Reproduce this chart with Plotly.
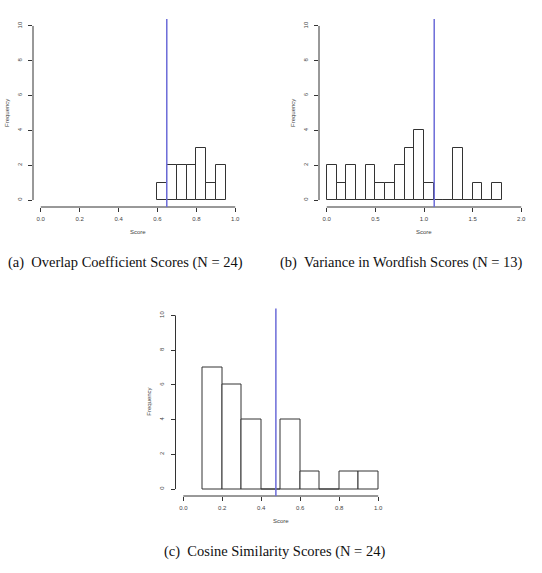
import plotly.graph_objects as go

# ---- data ----
a_edges = [0.60, 0.65, 0.70, 0.75, 0.80, 0.85, 0.90, 0.95]
a_counts = [1, 2, 2, 2, 3, 1, 2]
a_line = 0.648

b_edges = [round(0.1 * i, 1) for i in range(19)]
b_counts = [2, 1, 2, 0, 2, 1, 1, 2, 3, 4, 1, 0, 0, 3, 0, 1, 0, 1]
b_line = 1.105

c_edges = [0.1, 0.2, 0.3, 0.4, 0.5, 0.6, 0.7, 0.8, 0.9, 1.0]
c_counts = [7, 6, 4, 0, 4, 1, 0, 1, 1]
c_line = 0.475

a_xticks = [0.0, 0.2, 0.4, 0.6, 0.8, 1.0]
b_xticks = [0.0, 0.5, 1.0, 1.5, 2.0]
c_xticks = [0.0, 0.2, 0.4, 0.6, 0.8, 1.0]
yticks = [0, 2, 4, 6, 8, 10]

captions = ["(a)  Overlap Coefficient Scores (N = 24)",
            "(b)  Variance in Wordfish Scores (N = 13)",
            "(c)  Cosine Similarity Scores (N = 24)"]

W, H = 542, 573
fig = go.Figure()

panels = [
    dict(edges=a_edges, counts=a_counts, line=a_line, xmax=1.0, xticks=a_xticks,
         px=(33, 243), py=(19, 207), cap=(125, 262)),
    dict(edges=b_edges, counts=b_counts, line=b_line, xmax=2.0, xticks=b_xticks,
         px=(319, 529), py=(19, 207), cap=(402, 262)),
    dict(edges=c_edges, counts=c_counts, line=c_line, xmax=1.0, xticks=c_xticks,
         px=(175.5, 386), py=(308.5, 496), cap=(274, 551)),
]

tickfont = dict(family="Liberation Sans, Arial, sans-serif", size=6, color="#444")
for i, p in enumerate(panels, start=1):
    xa = "x" if i == 1 else f"x{i}"
    ya = "y" if i == 1 else f"y{i}"
    e = p["edges"]
    centers = [(e[k] + e[k + 1]) / 2 for k in range(len(p["counts"]))]
    widths = [e[k + 1] - e[k] for k in range(len(p["counts"]))]
    fig.add_trace(go.Bar(x=centers, y=p["counts"], width=widths,
                         marker=dict(color="white", line=dict(color="#333", width=1)),
                         xaxis=xa, yaxis=ya, showlegend=False))
    pad = 0.04 * p["xmax"]
    xdom = [p["px"][0] / W, p["px"][1] / W]
    ydom = [1 - p["py"][1] / H, 1 - p["py"][0] / H]
    fig.layout[f"xaxis{'' if i == 1 else i}"] = dict(
        domain=xdom, range=[-pad, p["xmax"] + pad], anchor=ya,
        tickvals=p["xticks"], ticktext=[f"{v:.1f}" for v in p["xticks"]],
        ticks="outside", ticklen=4, tickcolor="#333", tickwidth=1, ticklabelstandoff=2,
        showline=False, showgrid=False, zeroline=False, tickfont=tickfont)
    fig.layout[f"yaxis{'' if i == 1 else i}"] = dict(
        domain=ydom, range=[-0.4, 10.4], anchor=xa,
        tickvals=yticks, ticks="outside", ticklen=4, tickcolor="#333", tickwidth=1,
        ticklabelstandoff=4,
        tickangle=-90, showline=False, showgrid=False, zeroline=False, tickfont=tickfont)
    # detached R-style axis lines
    fig.add_shape(type="line", xref=xa, yref=f"{ya} domain", x0=p["xticks"][0], x1=p["xticks"][-1],
                  y0=0, y1=0, line=dict(color="#333", width=1))
    fig.add_shape(type="line", xref=f"{xa} domain", yref=ya, x0=0, x1=0, y0=0, y1=10,
                  line=dict(color="#333", width=1))
    # vertical reference line
    fig.add_shape(type="line", xref=xa, yref=f"{ya} domain", x0=p["line"], x1=p["line"],
                  y0=0, y1=1, line=dict(color="#6b6bd8", width=1.5))
    # axis titles
    cx = (p["px"][0] + p["px"][1]) / 2
    fig.add_annotation(x=cx / W, y=1 - (p["py"][1] + 25) / H, xref="paper", yref="paper",
                       xanchor="center", yanchor="middle",
                       text="Score", showarrow=False, font=tickfont)
    fig.add_annotation(x=(p["px"][0] - 26) / W, y=1 - ((p["py"][0] + p["py"][1]) / 2) / H,
                       xref="paper", yref="paper", xanchor="center", yanchor="middle",
                       text="Frequency", textangle=-90,
                       showarrow=False, font=tickfont)
    fig.add_annotation(x=p["cap"][0] / W, y=1 - p["cap"][1] / H, xref="paper", yref="paper",
                       xanchor="center", yanchor="middle",
                       text=captions[i - 1], showarrow=False,
                       font=dict(family="Liberation Serif, 'Times New Roman', serif", size=14.5, color="#111"))

fig.update_layout(width=W, height=H, margin=dict(l=0, r=0, t=0, b=0),
                  plot_bgcolor="white", paper_bgcolor="white", bargap=0)
fig.write_html("out.html")
